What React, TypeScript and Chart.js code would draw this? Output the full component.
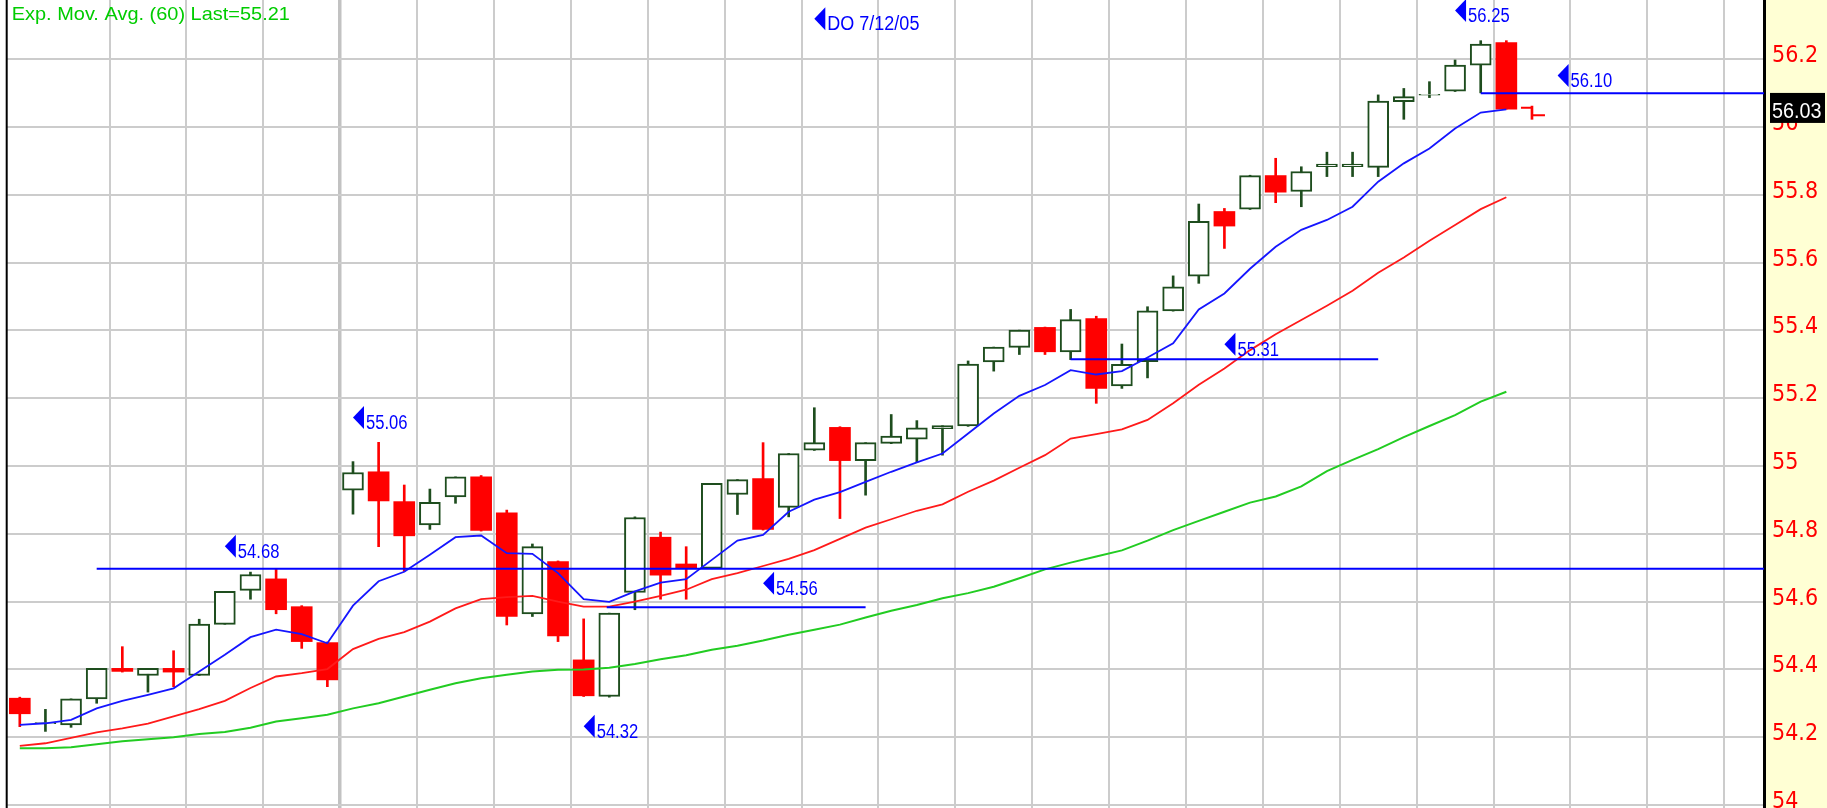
import React, { useEffect, useRef } from "react";
import { Chart, registerables } from "chart.js";

Chart.register(...registerables);

// ---------- DATA ----------
const OPEN = [
  54.315, 54.240, 54.236, 54.313, 54.403, 54.382, 54.403, 54.382, 54.533, 54.633,
  54.667, 54.585, 54.479, 54.929, 54.983, 54.895, 54.826, 54.909, 54.968, 54.862,
  54.564, 54.718, 54.428, 54.320, 54.627, 54.790, 54.711, 54.698, 54.916, 54.963,
  54.878, 55.047, 55.114, 55.016, 55.067, 55.079, 55.110, 55.118, 55.307, 55.350,
  55.409, 55.337, 55.435, 55.236, 55.308, 55.458, 55.560, 55.751, 55.758, 55.857,
  55.810, 55.883, 55.883, 55.881, 56.075, 56.094, 56.106, 56.183, 56.249, 56.057,
];
const HIGH = [
  54.318, 54.282, 54.313, 54.403, 54.467, 54.403, 54.455, 54.548, 54.630, 54.687,
  54.697, 54.588, 54.481, 55.013, 55.070, 54.944, 54.932, 54.968, 54.972, 54.870,
  54.770, 54.720, 54.549, 54.566, 54.850, 54.805, 54.762, 54.949, 54.960, 55.069,
  55.037, 55.172, 55.116, 55.069, 55.152, 55.134, 55.119, 55.310, 55.351, 55.401,
  55.410, 55.462, 55.442, 55.360, 55.470, 55.561, 55.773, 55.760, 55.858, 55.908,
  55.883, 55.926, 55.926, 56.095, 56.114, 56.134, 56.198, 56.255, 56.255, 56.062,
];
const LOW = [
  54.231, 54.217, 54.229, 54.300, 54.392, 54.333, 54.349, 54.382, 54.533, 54.607,
  54.564, 54.462, 54.349, 54.858, 54.762, 54.689, 54.813, 54.890, 54.808, 54.531,
  54.556, 54.482, 54.320, 54.318, 54.576, 54.607, 54.607, 54.697, 54.857, 54.811,
  54.850, 55.046, 54.845, 54.914, 55.066, 55.010, 55.032, 55.117, 55.280, 55.329,
  55.329, 55.314, 55.185, 55.229, 55.260, 55.457, 55.539, 55.642, 55.757, 55.777,
  55.765, 55.854, 55.854, 55.854, 56.023, 56.087, 56.105, 56.101, 56.053, 56.023,
];
const CLOSE = [
  54.269, 54.243, 54.313, 54.403, 54.394, 54.403, 54.392, 54.534, 54.630, 54.680,
  54.576, 54.482, 54.369, 54.981, 54.897, 54.794, 54.893, 54.968, 54.810, 54.556,
  54.762, 54.499, 54.322, 54.566, 54.848, 54.678, 54.698, 54.949, 54.960, 54.813,
  55.037, 55.069, 55.016, 55.069, 55.088, 55.113, 55.119, 55.301, 55.351, 55.401,
  55.337, 55.432, 55.229, 55.300, 55.458, 55.529, 55.722, 55.708, 55.857, 55.808,
  55.869, 55.891, 55.891, 56.077, 56.090, 56.097, 56.183, 56.245, 56.053, 56.035,
];

const EMA_FAST = [
  54.236, 54.241, 54.251, 54.285, 54.307, 54.325, 54.344, 54.394, 54.443, 54.495,
  54.517, 54.504, 54.477, 54.588, 54.660, 54.688, 54.738, 54.790, 54.795, 54.743,
  54.741, 54.684, 54.607, 54.599, 54.630, 54.656, 54.666, 54.723, 54.780, 54.797,
  54.865, 54.901, 54.923, 54.953, 54.983, 55.011, 55.037, 55.096, 55.155, 55.207,
  55.239, 55.283, 55.270, 55.280, 55.320, 55.362, 55.462, 55.509, 55.582, 55.647,
  55.697, 55.726, 55.765, 55.839, 55.893, 55.937, 55.996, 56.043, 56.052,
];
const EMA_MID = [
  54.174, 54.182, 54.198, 54.214, 54.226, 54.240, 54.261, 54.283, 54.307, 54.345,
  54.379, 54.389, 54.401, 54.460, 54.490, 54.510, 54.541, 54.580, 54.607, 54.613,
  54.617, 54.600, 54.585, 54.585, 54.600, 54.617, 54.635, 54.666, 54.684, 54.705,
  54.726, 54.752, 54.785, 54.818, 54.843, 54.868, 54.887, 54.924, 54.957, 54.995,
  55.032, 55.081, 55.094, 55.108, 55.136, 55.185, 55.240, 55.288, 55.342, 55.389,
  55.431, 55.473, 55.517, 55.570, 55.615, 55.665, 55.711, 55.758, 55.793,
];
const EMA_60 = [
  54.167, 54.167, 54.170, 54.179, 54.188, 54.194, 54.200, 54.209, 54.215, 54.228,
  54.246, 54.256, 54.266, 54.285, 54.300, 54.320, 54.340, 54.359, 54.374, 54.384,
  54.394, 54.399, 54.400, 54.405, 54.416, 54.430, 54.442, 54.458, 54.470, 54.485,
  54.502, 54.517, 54.532, 54.553, 54.573, 54.590, 54.610, 54.625, 54.644, 54.669,
  54.695, 54.715, 54.733, 54.751, 54.780, 54.811, 54.838, 54.865, 54.892, 54.910,
  54.940, 54.985, 55.018, 55.050, 55.085, 55.118, 55.150, 55.190, 55.219,
];

const Y_TICKS = [54, 54.2, 54.4, 54.6, 54.8, 55, 55.2, 55.4, 55.6, 55.8, 56, 56.2];
const X_GRID = [
  3.5, 6.5, 9.5, 12.5, 15.5, 18.5, 21.5, 24.5, 27.5, 30.5, 33.5,
  36.5, 39.5, 42.5, 45.5, 48.5, 51.5, 54.5, 57.5, 60.5, 63.5, 66.5,
];
const X_GRID_MAJOR = [12.5];

const LEVEL_VALUES = [54.697, 54.583, 55.315, 56.1];
const LEVEL_FROM = [3, 22.9, 41, 57];
const LEVEL_TO = [null, 33, 53, null];

const LABEL_TEXTS = ["55.06", "54.68", "54.56", "54.32", "55.31", "56.10", "56.25", "DO 7/12/05"];
const LABEL_BARS = [13, 8, 29, 22, 47, 60, 56, 31];
const LABEL_VALUES = [55.109, 54.729, 54.62, 54.198, 55.325, 56.118, 56.31, 56.286];

const TITLE = "Exp. Mov. Avg. (60) Last=55.21";
const LAST_PRICE = 56.03;

// ---------- STYLE / LAYOUT ----------
const X_MIN = -0.4994;
const X_MAX = 68.053;
const Y_MIN = 53.991;
const Y_MAX = 56.375;
const UP_COLOR = "#1e4d1e";
const DOWN_COLOR = "#ff0000";
const ANNOT_COLOR = "#0000ff";
const AXIS_BG = "#ffffd4";
const GRID_COLOR = "#cccccc";
const FONT = '"Liberation Sans", Arial, sans-serif';

function drawText(ctx: CanvasRenderingContext2D, text: string, x: number, y: number, font: string, sx: number, color: string) {
  ctx.save();
  ctx.font = font;
  ctx.fillStyle = color;
  ctx.textAlign = "left";
  ctx.textBaseline = "alphabetic";
  ctx.translate(x, y);
  ctx.scale(sx, 1);
  ctx.fillText(text, 0, 0);
  ctx.restore();
}

const decorPlugin = {
  id: "decor",
  beforeDraw(chart: any) {
    const { ctx, width, height, chartArea } = chart;
    ctx.save();
    ctx.fillStyle = "#ffffff";
    ctx.fillRect(0, 0, width, height);
    ctx.fillStyle = AXIS_BG;
    ctx.fillRect(chartArea.right, 0, width - chartArea.right, height);
    ctx.restore();
  },
  afterDatasetsDraw(chart: any) {
    const { ctx, chartArea } = chart;
    const xs = chart.scales.x;
    const ys = chart.scales.y;
    ctx.save();
    ctx.beginPath();
    ctx.rect(chartArea.left, chartArea.top, chartArea.right - chartArea.left, chartArea.bottom - chartArea.top);
    ctx.clip();
    // last (current) bar drawn as open/close ticks
    const li = OPEN.length - 1;
    const px = xs.getPixelForValue(li);
    const yo = ys.getPixelForValue(OPEN[li]);
    const yc = ys.getPixelForValue(CLOSE[li]);
    ctx.strokeStyle = CLOSE[li] >= OPEN[li] ? UP_COLOR : DOWN_COLOR;
    ctx.lineWidth = 2;
    ctx.beginPath();
    ctx.moveTo(px - 11, yo);
    ctx.lineTo(px, yo);
    ctx.moveTo(px, yc);
    ctx.lineTo(px + 13, yc);
    ctx.stroke();
    // price annotations
    for (let k = 0; k < LABEL_TEXTS.length; k++) {
      const ax = xs.getPixelForValue(LABEL_BARS[k]);
      const ay = ys.getPixelForValue(LABEL_VALUES[k]);
      ctx.fillStyle = ANNOT_COLOR;
      ctx.beginPath();
      ctx.moveTo(ax, ay - 11.5);
      ctx.lineTo(ax + 11, ay - 23);
      ctx.lineTo(ax + 11, ay);
      ctx.closePath();
      ctx.fill();
      const sx = LABEL_TEXTS[k].length > 6 ? 0.9 : 0.83;
      drawText(ctx, LABEL_TEXTS[k], ax + 13, ay, `20px ${FONT}`, sx, ANNOT_COLOR);
    }
    ctx.restore();
  },
  afterDraw(chart: any) {
    const { ctx, chartArea, height } = chart;
    const ys = chart.scales.y;
    ctx.save();
    ctx.fillStyle = "#000000";
    ctx.fillRect(chartArea.left - 1.3, 0, 2, height);
    drawText(ctx, TITLE, 11.7, 19.6, `19px ${FONT}`, 1.05, "#00cc00");
    const yl = ys.getPixelForValue(LAST_PRICE);
    ctx.fillStyle = "#000000";
    ctx.fillRect(chartArea.right + 6, yl - 24, 55, 30);
    drawText(ctx, LAST_PRICE.toFixed(2), chartArea.right + 8, yl + 1, `22px ${FONT}`, 0.9, "#ffffff");
    ctx.restore();
  },
};

export default function App() {
  const ref = useRef<HTMLCanvasElement>(null);

  useEffect(() => {
    document.body.style.margin = "0";
    document.body.style.overflow = "hidden";
    const idx = OPEN.map((_, i) => i);
    const bodyIdx = idx.slice(0, -1);
    const isUp = (i: number) => CLOSE[i] >= OPEN[i];

    const datasets: any[] = [];
    // level lines
    LEVEL_VALUES.forEach((v, k) => {
      datasets.push({
        type: "line",
        data: [
          { x: LEVEL_FROM[k], y: v },
          { x: LEVEL_TO[k] == null ? X_MAX : LEVEL_TO[k], y: v },
        ],
        borderColor: ANNOT_COLOR,
        borderWidth: 2,
        pointRadius: 0,
        tension: 0,
        order: 0,
        clip: 0,
      });
    });
    datasets.push({
      type: "line",
      data: EMA_FAST.map((v, i) => ({ x: i, y: v })),
      borderColor: "#1515ff",
      borderWidth: 1.8,
      pointRadius: 0,
      tension: 0,
      order: 1,
    });
    datasets.push({
      type: "line",
      data: EMA_MID.map((v, i) => ({ x: i, y: v })),
      borderColor: "#ff1a1a",
      borderWidth: 1.8,
      pointRadius: 0,
      tension: 0,
      order: 2,
    });
    datasets.push({
      type: "line",
      data: EMA_60.map((v, i) => ({ x: i, y: v })),
      borderColor: "#22cc22",
      borderWidth: 2,
      pointRadius: 0,
      tension: 0,
      order: 3,
    });
    // candle bodies
    datasets.push({
      type: "bar",
      data: bodyIdx.map((i) => ({ x: i, y: [OPEN[i], CLOSE[i]] })),
      backgroundColor: bodyIdx.map((i) => (isUp(i) ? "#ffffff" : DOWN_COLOR)),
      borderColor: bodyIdx.map((i) => (isUp(i) ? UP_COLOR : DOWN_COLOR)),
      borderWidth: bodyIdx.map((i) => (isUp(i) ? 2 : 0)),
      borderSkipped: false,
      barThickness: 21,
      grouped: false,
      order: 4,
    });
    // wicks
    datasets.push({
      type: "bar",
      data: idx.map((i) => ({ x: i, y: [LOW[i], HIGH[i]] })),
      backgroundColor: idx.map((i) => (isUp(i) ? UP_COLOR : DOWN_COLOR)),
      borderWidth: 0,
      barThickness: 2,
      grouped: false,
      order: 5,
    });

    const chart = new Chart(ref.current as HTMLCanvasElement, {
      type: "bar",
      data: { datasets },
      options: {
        animation: false,
        responsive: false,
        maintainAspectRatio: false,
        devicePixelRatio: 1,
        events: [],
        layout: { padding: { left: 7, right: 0, top: 0, bottom: 0 }, autoPadding: false },
        plugins: { legend: { display: false }, tooltip: { enabled: false }, title: { display: false } },
        scales: {
          x: {
            type: "linear",
            min: X_MIN,
            max: X_MAX,
            offset: false,
            afterBuildTicks: (s: any) => {
              s.ticks = X_GRID.map((v) => ({ value: v }));
            },
            afterFit: (s: any) => {
              s.height = 0;
              s.paddingLeft = 0;
              s.paddingRight = 0;
            },
            ticks: { display: false },
            grid: {
              offset: false,
              drawTicks: false,
              color: (c: any) => (c.tick && X_GRID_MAJOR.includes(c.tick.value) ? "#c2c2c2" : GRID_COLOR),
              lineWidth: (c: any) => (c.tick && X_GRID_MAJOR.includes(c.tick.value) ? 3.5 : 2),
            },
            border: { display: false },
          },
          y: {
            type: "linear",
            position: "right",
            min: Y_MIN,
            max: Y_MAX,
            afterBuildTicks: (s: any) => {
              s.ticks = Y_TICKS.map((v) => ({ value: v }));
            },
            afterFit: (s: any) => {
              s.width = 63;
              s.paddingTop = 0;
              s.paddingBottom = 0;
            },
            ticks: {
              color: "#ff0000",
              padding: 8,
              labelOffset: -3,
              autoSkip: false,
              font: { family: '"Liberation Sans Narrow", "DejaVu Sans Condensed", "Liberation Sans", Arial, sans-serif', size: 23 },
              callback: (v: any) => String(Math.round(Number(v) * 10) / 10),
            },
            grid: { offset: false, drawTicks: false, color: GRID_COLOR, lineWidth: 2 },
            border: { display: true, color: "#000000", width: 3 },
          },
        },
      } as any,
      plugins: [decorPlugin],
    });
    return () => chart.destroy();
  }, []);

  return (
    <div style={{ width: 1827, height: 808, position: "relative" }}>
      <canvas ref={ref} width={1827} height={808} style={{ display: "block", width: 1827, height: 808 }} />
    </div>
  );
}
